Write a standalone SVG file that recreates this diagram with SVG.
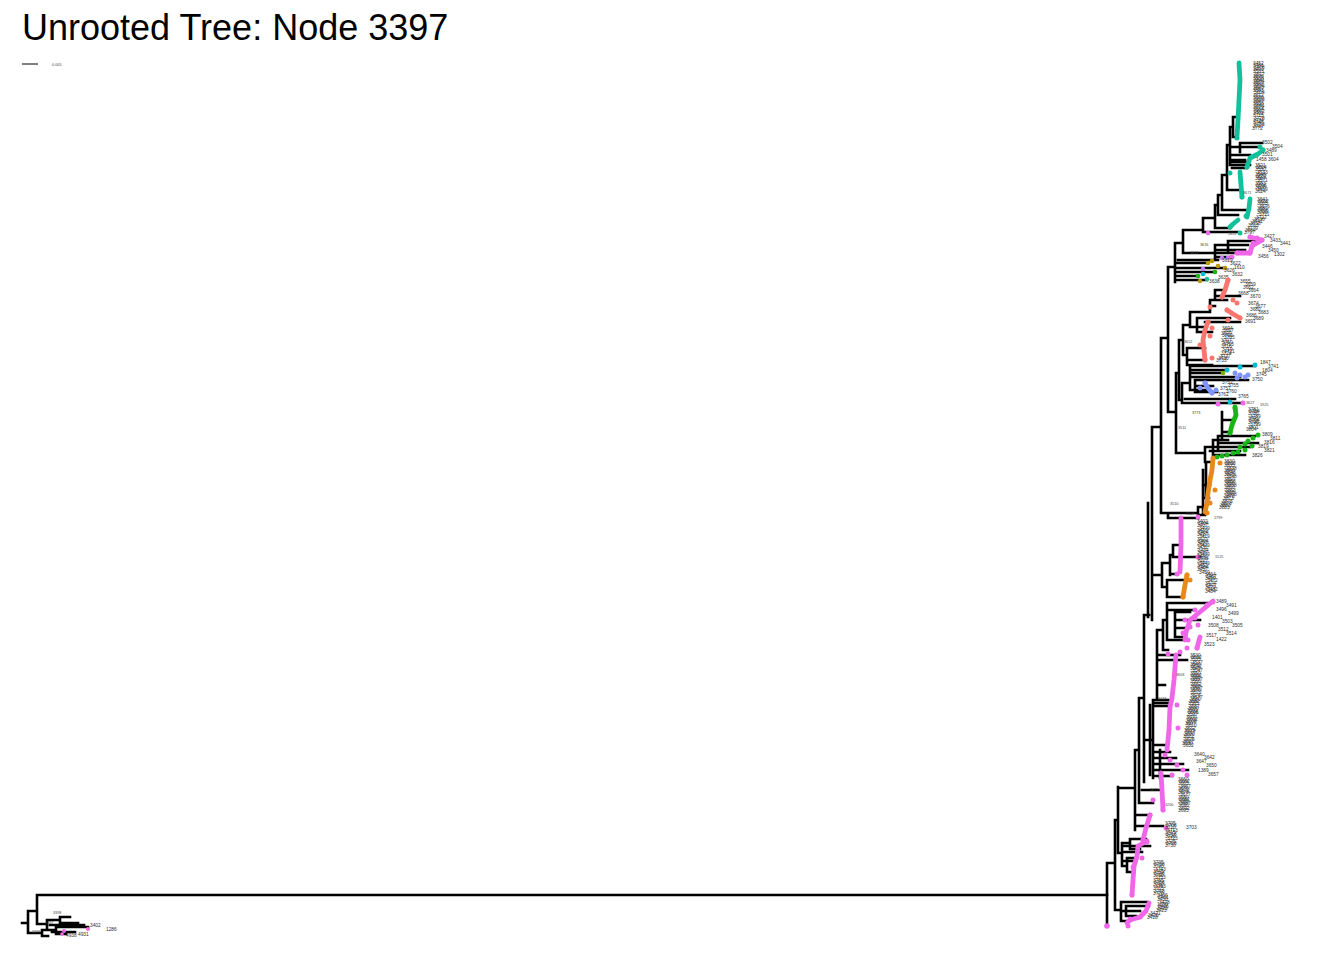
<svg xmlns="http://www.w3.org/2000/svg" width="1344" height="960" viewBox="0 0 1344 960">
<style>
.t{fill:none;stroke:#000;stroke-width:2.6;stroke-linecap:square}
.ch{fill:none;stroke-width:4.8;stroke-linecap:round;stroke-linejoin:round}
.lb{font-family:"Liberation Sans",Arial,sans-serif;font-size:4.8px;fill:#2e2e2e}
.nl{font-family:"Liberation Sans",Arial,sans-serif;font-size:3.8px;fill:#444}
.te{fill:#12C19B}.tes{stroke:#12C19B}
.pk{fill:#F066E8}.pks{stroke:#F066E8}
.sa{fill:#F8766D}.sas{stroke:#F8766D}
.bl{fill:#7F93FF}.bls{stroke:#7F93FF}
.gr{fill:#18B514}.grs{stroke:#18B514}
.or{fill:#E8891A}.ors{stroke:#E8891A}
.ol{fill:#B59B00}.cy{fill:#00BCD4}.pu{fill:#C77CFF}.yg{fill:#7CAE00}
</style>
<rect width="1344" height="960" fill="#fff"/>
<text x="22" y="40" font-family="Liberation Sans, Arial, sans-serif" font-size="36" fill="#000">Unrooted Tree: Node 3397</text>
<g id="scale"><path d="M22,64H38" stroke="#000" stroke-width="1"/><text x="52" y="65.5" class="nl" font-size="3">0.005</text></g>

<g id="edges">
<path class="t" d="M22,923H28 M28,911V933 M28,911H37 M37,895V924 M37,895H1107
M37,924H47 M47,920V930 M47,920H60 M60,917V923 M60,917H70 M60,923H78 M47,930H56 M56,927V934 M56,927H88 M56,934H66 M28,933H42 M42,930V936 M42,930H50 M42,936H48 M50,925H84 M52,932H75"/>
<path class="t" d="M1107,863V926 M1107,863H1115 M1115,820V910
M1115,910H1121 M1121,902V921 M1121,902H1147 M1121,911H1140 M1121,921H1130 M1126,906V916 M1126,906H1146 M1126,916H1136
M1118,787V853 M1115,820H1118 M1118,853H1122 M1122,843V866 M1122,843H1130 M1130,839V849 M1130,839H1146 M1130,849H1140 M1122,866H1127 M1127,858V872 M1127,858H1137 M1127,872H1134 M1124,852H1142 M1124,861H1136 M1124,846H1150
M1118,788H1135 M1135,750V830 M1135,826H1163 M1135,815H1150 M1139,698V803 M1135,750H1139 M1139,803H1153 M1142,790H1160
M1144,615V782 M1139,698H1144 M1144,740H1153
M1153,700V778 M1150,705V775 M1153,700H1157 M1157,630V700 M1157,630H1163 M1163,620V650 M1163,620H1167 M1167,603V640 M1167,603H1210 M1167,610H1195 M1167,640H1185 M1175,612V637 M1175,612H1190 M1175,620H1200 M1175,628H1186 M1175,637H1183 M1163,650H1168 M1157,655H1180 M1157,685H1165 M1153,700H1172 M1153,703H1170 M1153,706H1168 M1157,660H1187 M1153,745H1165 M1153,752H1170 M1153,758H1176 M1153,764H1183 M1153,770H1188 M1153,776H1172 M1160,750V778
M1144,615H1149 M1148,503V617 M1152,427V620 M1152,427H1161 M1161,338V513 M1161,338H1168 M1168,267V412 M1168,412H1176 M1176,373V453 M1176,453H1205
M1152,575H1162 M1162,563V587 M1162,563H1170 M1170,555V575 M1170,555H1173 M1173,545V557 M1173,557H1200 M1173,545H1181 M1170,574H1177 M1162,587H1167 M1167,580V597 M1167,597H1183 M1167,580H1187
M1161,513H1197 M1168,513V518 M1168,518H1198
M1205,447V462 M1205,447H1213 M1213,440V455 M1213,440H1228 M1213,455H1245 M1213,447H1250 M1218,436V450 M1218,436H1255 M1218,443H1258 M1210,451H1240 M1205,462H1212 M1203,470V513 M1206,462V498 M1203,485H1210 M1203,498H1209 M1198,507V515 M1198,507H1205 M1198,515H1205 M1222,412V440 M1222,420H1232 M1222,432H1230
M1176,373H1179 M1179,340V400 M1179,340H1183 M1183,325V355 M1183,325H1190 M1190,312V327 M1190,312H1210 M1210,300V312 M1210,300H1227 M1210,306H1215 M1190,327H1205 M1183,355H1187 M1187,348V365 M1187,348H1205 M1187,360H1205 M1187,365H1212 M1215,290V300 M1215,290H1225 M1215,296H1240 M1197,318V332 M1197,318H1230 M1197,332H1212 M1205,322H1240
M1179,400H1182 M1182,383V403 M1182,383H1190 M1190,366V390 M1190,366H1255 M1190,370H1227 M1190,373H1223 M1190,377H1240 M1195,380V392 M1195,380H1248 M1195,386H1213 M1195,392H1217 M1182,403H1243 M1190,390H1208 M1185,399H1235
M1168,267H1175 M1175,243V282 M1175,263H1208 M1175,268H1225 M1175,272H1215 M1175,276H1198 M1175,280H1207 M1178,260H1218
M1175,243H1183 M1183,230V253 M1183,253H1215 M1215,245V258 M1215,245H1248 M1215,250H1245 M1215,253H1237 M1215,257H1230 M1228,241V252 M1228,241H1258
M1183,230H1203 M1203,218V232 M1203,232H1238 M1203,218H1215 M1215,205V228 M1215,228H1230 M1215,205H1218 M1218,195V215 M1218,215H1238 M1218,195H1222 M1222,175V210 M1222,210H1247 M1222,175H1227 M1227,145V190 M1227,190H1240 M1227,145H1230 M1230,127V165 M1230,165H1250 M1230,160H1245 M1230,155H1250 M1230,147H1257 M1240,143V152 M1240,143H1262 M1230,127H1233 M1233,117V137 M1233,137H1237 M1233,117H1237 M1232,162H1248 M1232,168H1246"/>
</g>

<g id="node-left">
<circle class="pk" cx="64" cy="931" r="2"/><circle class="pk" cx="88" cy="929" r="2"/><circle class="pk" cx="62" cy="934" r="1.8"/>
<text class="nl" x="53" y="914">3398</text><text class="nl" x="45" y="924">3397</text><text class="nl" x="32" y="933">3399</text>
<text class="lb"><tspan x="66" y="937">4938</tspan><tspan x="78" y="936">4931</tspan><tspan x="90" y="927">3402</tspan><tspan x="106" y="931">1286</tspan></text>
</g>

<g id="node-teal">
<path class="ch tes" d="M1239,63 L1240,80 L1239,100 L1238,120 L1237,136"/>
<path class="ch tes" d="M1263,150 L1258,154 L1250,158 L1247,167"/>
<path class="ch tes" d="M1240,172 L1241,185 L1242,197"/>
<path class="ch tes" d="M1250,199 L1249,208 L1247,217"/>
<path class="ch tes" d="M1238,220 L1233,224 L1230,227"/>
<circle class="te" cx="1237" cy="138" r="2.5"/><circle class="te" cx="1260" cy="147" r="2.5"/><circle class="te" cx="1263" cy="150" r="2.5"/><circle class="te" cx="1247" cy="167" r="2.5"/><circle class="te" cx="1230" cy="173" r="2.5"/><circle class="te" cx="1242" cy="197" r="2.5"/><circle class="te" cx="1246" cy="216" r="2.5"/><circle class="te" cx="1230" cy="227" r="2.5"/><circle class="te" cx="1240" cy="233" r="2.5"/>
<text class="nl" x="1243" y="194">3671</text><text class="nl" x="1228" y="235">1455</text>
<text class="lb"><tspan x="1253" y="65">3452</tspan><tspan x="1253" dy="2.1">3461</tspan><tspan x="1254" dy="2.1">3478</tspan><tspan x="1253" dy="2.1">3490</tspan><tspan x="1253" dy="2.1">3503</tspan><tspan x="1254" dy="2.1">3517</tspan><tspan x="1253" dy="2.1">3526</tspan><tspan x="1253" dy="2.1">3538</tspan><tspan x="1254" dy="2.1">3541</tspan><tspan x="1253" dy="2.1">3555</tspan><tspan x="1253" dy="2.1">3562</tspan><tspan x="1254" dy="2.1">3574</tspan><tspan x="1253" dy="2.1">3589</tspan><tspan x="1253" dy="2.1">3591</tspan><tspan x="1254" dy="2.1">3604</tspan><tspan x="1253" dy="2.1">3612</tspan><tspan x="1253" dy="2.1">3620</tspan><tspan x="1254" dy="2.1">3633</tspan><tspan x="1253" dy="2.1">3647</tspan><tspan x="1253" dy="2.1">3658</tspan><tspan x="1254" dy="2.1">3661</tspan><tspan x="1253" dy="2.1">3679</tspan><tspan x="1253" dy="2.1">3684</tspan><tspan x="1254" dy="2.1">3692</tspan><tspan x="1253" dy="2.1">3701</tspan><tspan x="1253" dy="2.1">3715</tspan><tspan x="1254" dy="2.1">3728</tspan><tspan x="1253" dy="2.1">3734</tspan><tspan x="1253" dy="2.1">3746</tspan><tspan x="1254" dy="2.1">3753</tspan><tspan x="1253" dy="2.1">3767</tspan><tspan x="1252" dy="2.1">3772</tspan></text>
<text class="lb"><tspan x="1262" y="144">3502</tspan><tspan x="1272" y="148">3504</tspan><tspan x="1266" y="152">3489</tspan><tspan x="1262" y="156">3501</tspan><tspan x="1256" y="161">1458</tspan><tspan x="1268" y="161">3604</tspan></text>
<text class="lb"><tspan x="1255" y="167">3521</tspan><tspan x="1256" dy="2.2">3524</tspan><tspan x="1255" dy="2.2">3530</tspan><tspan x="1257" dy="2.2">3533</tspan><tspan x="1255" dy="2.2">3548</tspan><tspan x="1256" dy="2.2">3552</tspan><tspan x="1255" dy="2.2">3567</tspan><tspan x="1257" dy="2.2">3571</tspan><tspan x="1255" dy="2.2">3583</tspan><tspan x="1256" dy="2.2">3596</tspan><tspan x="1255" dy="2.2">3608</tspan><tspan x="1257" dy="2.2">3619</tspan><tspan x="1255" dy="2.2">3624</tspan></text>
<text class="lb"><tspan x="1257" y="201">3641</tspan><tspan x="1258" dy="2.2">3652</tspan><tspan x="1257" dy="2.2">3665</tspan><tspan x="1259" dy="2.2">3676</tspan><tspan x="1257" dy="2.2">3681</tspan><tspan x="1258" dy="2.2">3693</tspan><tspan x="1257" dy="2.2">3709</tspan><tspan x="1259" dy="2.2">3711</tspan><tspan x="1256" dy="2.2">3722</tspan><tspan x="1254" dy="2.2">3736</tspan><tspan x="1252" dy="2.2">3741</tspan><tspan x="1250" dy="2.2">3758</tspan><tspan x="1248" dy="2.2">3763</tspan><tspan x="1247" dy="2.2">3779</tspan><tspan x="1245" dy="2.2">3784</tspan><tspan x="1244" dy="2.2">3797</tspan></text>
</g>

<g id="node-upper-pink">
<path class="ch pks" d="M1250,237 L1262,240 L1252,246 L1250,253 L1237,253"/>
<circle class="pk" cx="1250" cy="237" r="2.5"/><circle class="pk" cx="1257" cy="238" r="2.5"/><circle class="pk" cx="1262" cy="240" r="2.5"/><circle class="pk" cx="1253" cy="243" r="2.5"/><circle class="pk" cx="1250" cy="253" r="2.5"/><circle class="pk" cx="1237" cy="253" r="2.5"/><circle class="pk" cx="1232" cy="257" r="2.5"/><circle class="pk" cx="1208" cy="233" r="2.3"/>
<circle class="pu" cx="1222" cy="258" r="2.3"/><circle class="pu" cx="1228" cy="258" r="2.3"/>
<text class="nl" x="1200" y="246">3616</text><text class="nl" x="1190" y="254">3615</text>
<text class="lb"><tspan x="1264" y="238">3427</tspan><tspan x="1270" y="242">3433</tspan><tspan x="1280" y="245">3441</tspan><tspan x="1262" y="248">3446</tspan><tspan x="1268" y="252">3450</tspan><tspan x="1274" y="256">1302</tspan><tspan x="1258" y="258">3456</tspan></text>
</g>

<g id="node-small">
<circle class="ol" cx="1208" cy="263" r="2.3"/><circle class="ol" cx="1212" cy="261" r="2.3"/><circle class="ol" cx="1218" cy="266" r="2.3"/><circle class="ol" cx="1200" cy="281" r="2.3"/><circle class="ol" cx="1225" cy="268" r="2.3"/>
<circle class="pu" cx="1203" cy="269" r="2.3"/><circle class="cy" cx="1203" cy="274" r="2.3"/><circle class="gr" cx="1198" cy="276" r="2.3"/><circle class="gr" cx="1215" cy="272" r="2.3"/><circle class="te" cx="1207" cy="279" r="2.3"/>
<text class="lb"><tspan x="1222" y="262">3619</tspan><tspan x="1230" y="265">3622</tspan><tspan x="1234" y="269">1610</tspan><tspan x="1224" y="272">3626</tspan><tspan x="1232" y="276">3632</tspan><tspan x="1218" y="279">3635</tspan><tspan x="1209" y="283">3638</tspan></text>
</g>

<g id="node-salmon">
<path class="ch sas" d="M1228,280 L1225,290 L1222,297"/>
<path class="ch sas" d="M1227,310 L1233,314 L1240,318"/>
<path class="ch sas" d="M1208,322 L1205,330 L1203,340 L1204,350 L1205,360"/>
<circle class="sa" cx="1228" cy="280" r="2.5"/><circle class="sa" cx="1222" cy="297" r="2.5"/><circle class="sa" cx="1233" cy="300" r="2.5"/><circle class="sa" cx="1237" cy="303" r="2.5"/><circle class="sa" cx="1210" cy="307" r="2.5"/><circle class="sa" cx="1227" cy="310" r="2.5"/><circle class="sa" cx="1240" cy="318" r="2.5"/><circle class="sa" cx="1228" cy="320" r="2.5"/><circle class="sa" cx="1208" cy="322" r="2.5"/><circle class="sa" cx="1212" cy="328" r="2.5"/><circle class="sa" cx="1210" cy="336" r="2.5"/><circle class="sa" cx="1200" cy="345" r="2.5"/><circle class="sa" cx="1205" cy="360" r="2.5"/><circle class="sa" cx="1212" cy="358" r="2.5"/>
<text class="nl" x="1184" y="343">3652</text>
<text class="lb"><tspan x="1240" y="283">3655</tspan><tspan x="1245" y="286">3659</tspan><tspan x="1243" y="289">3662</tspan><tspan x="1248" y="292">3664</tspan><tspan x="1238" y="295">3668</tspan><tspan x="1250" y="298">3670</tspan><tspan x="1248" y="305">3674</tspan><tspan x="1255" y="308">3677</tspan><tspan x="1250" y="311">3680</tspan><tspan x="1258" y="314">3683</tspan><tspan x="1246" y="317">3686</tspan><tspan x="1253" y="320">3689</tspan><tspan x="1245" y="323">3691</tspan></text>
<text class="lb"><tspan x="1222" y="330">3694</tspan><tspan x="1223" dy="2.3">3697</tspan><tspan x="1221" dy="2.3">3699</tspan><tspan x="1222" dy="2.3">3702</tspan><tspan x="1224" dy="2.3">3705</tspan><tspan x="1221" dy="2.3">3707</tspan><tspan x="1222" dy="2.3">3710</tspan><tspan x="1223" dy="2.3">3713</tspan><tspan x="1221" dy="2.3">3716</tspan><tspan x="1222" dy="2.3">3719</tspan><tspan x="1224" dy="2.3">3721</tspan><tspan x="1221" dy="2.3">3724</tspan><tspan x="1220" dy="2.3">3727</tspan><tspan x="1218" dy="2.3">3730</tspan><tspan x="1216" dy="2.3">3733</tspan></text>
</g>

<g id="node-blue">
<path class="ch bls" d="M1205,383 L1208,388 L1212,393"/>
<circle class="bl" cx="1235" cy="373" r="2.5"/><circle class="bl" cx="1240" cy="375" r="2.5"/><circle class="bl" cx="1245" cy="377" r="2.5"/><circle class="bl" cx="1248" cy="375" r="2.5"/><circle class="bl" cx="1237" cy="378" r="2.5"/><circle class="bl" cx="1205" cy="383" r="2.5"/><circle class="bl" cx="1212" cy="393" r="2.5"/><circle class="bl" cx="1216" cy="390" r="2.5"/><circle class="bl" cx="1200" cy="388" r="2.5"/>
<circle class="cy" cx="1227" cy="370" r="2.5"/><circle class="cy" cx="1240" cy="367" r="2.5"/><circle class="cy" cx="1255" cy="365" r="2.5"/><circle class="cy" cx="1230" cy="402" r="2.5"/><circle class="yg" cx="1223" cy="373" r="2.3"/>
<circle class="pk" cx="1218" cy="404" r="2.5"/><circle class="pk" cx="1243" cy="403" r="2.5"/>
<text class="nl" x="1192" y="414">3773</text><text class="nl" x="1246" y="404">3627</text><text class="nl" x="1260" y="406">1925</text>
<text class="lb"><tspan x="1260" y="364">1847</tspan><tspan x="1268" y="368">3741</tspan><tspan x="1262" y="372">1804</tspan><tspan x="1256" y="376">3745</tspan><tspan x="1252" y="381">3750</tspan><tspan x="1222" y="384">3752</tspan><tspan x="1228" y="387">3755</tspan><tspan x="1220" y="390">3757</tspan><tspan x="1226" y="393">3760</tspan><tspan x="1218" y="396">3762</tspan><tspan x="1238" y="398">3765</tspan></text>
</g>

<g id="node-green">
<path class="ch grs" d="M1235,407 L1236,415 L1232,425 L1230,433"/>
<circle class="gr" cx="1235" cy="408" r="2.5"/><circle class="gr" cx="1230" cy="433" r="2.5"/><circle class="gr" cx="1258" cy="435" r="2.5"/><circle class="gr" cx="1253" cy="438" r="2.5"/><circle class="gr" cx="1248" cy="441" r="2.5"/><circle class="gr" cx="1245" cy="444" r="2.5"/><circle class="gr" cx="1240" cy="447" r="2.5"/><circle class="gr" cx="1252" cy="446" r="2.5"/><circle class="gr" cx="1217" cy="457" r="2.5"/><circle class="gr" cx="1222" cy="456" r="2.5"/><circle class="gr" cx="1227" cy="455" r="2.5"/><circle class="gr" cx="1233" cy="453" r="2.5"/><circle class="gr" cx="1238" cy="452" r="2.5"/><circle class="gr" cx="1245" cy="450" r="2.5"/>
<text class="nl" x="1178" y="429">3511</text>
<text class="lb"><tspan x="1248" y="411">3781</tspan><tspan x="1249" dy="2.2">3784</tspan><tspan x="1248" dy="2.2">3786</tspan><tspan x="1250" dy="2.2">3789</tspan><tspan x="1248" dy="2.2">3791</tspan><tspan x="1249" dy="2.2">3794</tspan><tspan x="1248" dy="2.2">3796</tspan><tspan x="1250" dy="2.2">3799</tspan><tspan x="1248" dy="2.2">3801</tspan><tspan x="1246" dy="2.2">3804</tspan><tspan x="1262" y="436">3809</tspan><tspan x="1270" y="440">3811</tspan><tspan x="1264" y="444">3816</tspan><tspan x="1258" y="448">3819</tspan><tspan x="1264" y="452">3821</tspan><tspan x="1252" y="457">3826</tspan></text>
</g>

<g id="node-orange">
<path class="ch ors" d="M1213,459 L1212,470 L1210,480 L1208,493 L1207,503 L1205,512"/>
<path class="ch ors" d="M1187,575 L1185,585 L1183,597"/>
<circle class="or" cx="1213" cy="458" r="2.5"/><circle class="or" cx="1220" cy="463" r="2.5"/><circle class="or" cx="1215" cy="490" r="2.5"/><circle class="or" cx="1210" cy="503" r="2.5"/><circle class="or" cx="1207" cy="513" r="2.5"/><circle class="or" cx="1187" cy="575" r="2.5"/><circle class="or" cx="1190" cy="580" r="2.5"/><circle class="or" cx="1183" cy="597" r="2.5"/>
<text class="nl" x="1214" y="519">1799</text>
<text class="lb"><tspan x="1224" y="463">3830</tspan><tspan x="1225" dy="2.2">3833</tspan><tspan x="1224" dy="2.2">3835</tspan><tspan x="1226" dy="2.2">3838</tspan><tspan x="1224" dy="2.2">3840</tspan><tspan x="1225" dy="2.2">3843</tspan><tspan x="1224" dy="2.2">3845</tspan><tspan x="1226" dy="2.2">3848</tspan><tspan x="1224" dy="2.2">3850</tspan><tspan x="1225" dy="2.2">3853</tspan><tspan x="1224" dy="2.2">3855</tspan><tspan x="1226" dy="2.2">3858</tspan><tspan x="1224" dy="2.2">3860</tspan><tspan x="1225" dy="2.2">3863</tspan><tspan x="1224" dy="2.2">3865</tspan><tspan x="1226" dy="2.2">3868</tspan><tspan x="1224" dy="2.2">3870</tspan><tspan x="1223" dy="2.2">3873</tspan><tspan x="1222" dy="2.2">3875</tspan><tspan x="1221" dy="2.2">3878</tspan><tspan x="1220" dy="2.2">3880</tspan><tspan x="1219" dy="2.2">3883</tspan></text>
</g>

<g id="node-pink-main">
<path class="ch pks" d="M1181,518 L1181,545 L1180,572"/>
<path class="ch pks" d="M1213,601 L1200,612 L1190,620 L1186,632 L1185,640"/>
<path class="ch pks" d="M1200,637 L1197,648"/>
<path class="ch pks" d="M1176,655 L1174,680 L1172,698 L1170,707 L1169,730 L1167,750"/>
<path class="ch pks" d="M1161,773 L1162,790 L1163,810"/>
<path class="ch pks" d="M1150,815 L1146,828 L1143,840"/>
<path class="ch pks" d="M1147,841 L1138,846 L1137,856 L1134,866 L1133,880 L1132,895"/>
<path class="ch pks" d="M1149,903 L1146,911 L1140,917 L1130,920 L1127,923"/>
<circle class="pk" cx="1198" cy="517" r="2.5"/><circle class="pk" cx="1177" cy="574" r="2.5"/><circle class="pk" cx="1198" cy="557" r="2.5"/>
<circle class="pk" cx="1213" cy="602" r="2.5"/><circle class="pk" cx="1207" cy="605" r="2.5"/><circle class="pk" cx="1195" cy="610" r="2.5"/><circle class="pk" cx="1185" cy="620" r="2.5"/><circle class="pk" cx="1190" cy="627" r="2.5"/><circle class="pk" cx="1198" cy="625" r="2.5"/><circle class="pk" cx="1183" cy="633" r="2.5"/><circle class="pk" cx="1188" cy="640" r="2.5"/><circle class="pk" cx="1195" cy="618" r="2.5"/>
<circle class="pk" cx="1197" cy="648" r="2.5"/><circle class="pk" cx="1187" cy="648" r="2.5"/><circle class="pk" cx="1180" cy="652" r="2.5"/><circle class="pk" cx="1168" cy="654" r="2.5"/><circle class="pk" cx="1177" cy="705" r="2.5"/><circle class="pk" cx="1178" cy="728" r="2.5"/>
<circle class="pk" cx="1165" cy="755" r="2.5"/><circle class="pk" cx="1170" cy="760" r="2.5"/><circle class="pk" cx="1177" cy="765" r="2.5"/><circle class="pk" cx="1183" cy="770" r="2.5"/><circle class="pk" cx="1187" cy="775" r="2.5"/><circle class="pk" cx="1172" cy="775" r="2.5"/>
<circle class="pk" cx="1153" cy="800" r="2.5"/><circle class="pk" cx="1163" cy="810" r="2.5"/><circle class="pk" cx="1166" cy="828" r="2.5"/><circle class="pk" cx="1150" cy="815" r="2.5"/><circle class="pk" cx="1143" cy="840" r="2.5"/>
<circle class="pk" cx="1147" cy="842" r="2.5"/><circle class="pk" cx="1142" cy="858" r="2.5"/><circle class="pk" cx="1133" cy="867" r="2.5"/><circle class="pk" cx="1132" cy="895" r="2.5"/>
<circle class="pk" cx="1148" cy="906" r="2.5"/><circle class="pk" cx="1140" cy="917" r="2.5"/><circle class="pk" cx="1130" cy="919" r="2.5"/><circle class="pk" cx="1128" cy="926" r="2.5"/><circle class="pk" cx="1107" cy="926" r="2.8"/>
<text class="nl" x="1170" y="505">3510</text><text class="nl" x="1186" y="515">3509</text><text class="nl" x="1215" y="558">1525</text><text class="nl" x="1176" y="676">3603</text><text class="nl" x="1158" y="700">3418</text><text class="nl" x="1150" y="791">3475</text><text class="nl" x="1165" y="806">3200</text>
<text class="lb"><tspan x="1197" y="523">3402</tspan><tspan x="1198" dy="2.2">3404</tspan><tspan x="1197" dy="2.2">3407</tspan><tspan x="1199" dy="2.2">3409</tspan><tspan x="1197" dy="2.2">3412</tspan><tspan x="1198" dy="2.2">3414</tspan><tspan x="1197" dy="2.2">3417</tspan><tspan x="1199" dy="2.2">3419</tspan><tspan x="1197" dy="2.2">3422</tspan><tspan x="1198" dy="2.2">3424</tspan><tspan x="1197" dy="2.2">3427</tspan><tspan x="1199" dy="2.2">3429</tspan><tspan x="1197" dy="2.2">3432</tspan><tspan x="1198" dy="2.2">3434</tspan><tspan x="1197" dy="2.2">3437</tspan><tspan x="1199" dy="2.2">3439</tspan><tspan x="1197" dy="2.2">3442</tspan><tspan x="1198" dy="2.2">3444</tspan><tspan x="1197" dy="2.2">3447</tspan><tspan x="1199" dy="2.2">3449</tspan><tspan x="1197" dy="2.2">3452</tspan><tspan x="1198" dy="2.2">3454</tspan><tspan x="1197" dy="2.2">3457</tspan><tspan x="1199" dy="2.2">3459</tspan><tspan x="1205" dy="2.2">3464</tspan><tspan x="1206" dy="2.2">3467</tspan><tspan x="1205" dy="2.2">3469</tspan><tspan x="1207" dy="2.2">3472</tspan><tspan x="1205" dy="2.2">3474</tspan><tspan x="1206" dy="2.2">3477</tspan><tspan x="1205" dy="2.2">3479</tspan><tspan x="1207" dy="2.2">3482</tspan><tspan x="1205" dy="2.2">3484</tspan></text>
<text class="lb"><tspan x="1216" y="603">3489</tspan><tspan x="1226" y="607">3491</tspan><tspan x="1216" y="611">3496</tspan><tspan x="1228" y="615">3499</tspan><tspan x="1212" y="619">1401</tspan><tspan x="1222" y="623">3503</tspan><tspan x="1232" y="627">3505</tspan><tspan x="1208" y="627">3508</tspan><tspan x="1218" y="631">3512</tspan><tspan x="1226" y="635">3514</tspan><tspan x="1206" y="637">3517</tspan><tspan x="1216" y="641">1422</tspan><tspan x="1204" y="646">3523</tspan></text>
<text class="lb"><tspan x="1190" y="657">3530</tspan><tspan x="1191" dy="2.2">3532</tspan><tspan x="1190" dy="2.2">3535</tspan><tspan x="1192" dy="2.2">3537</tspan><tspan x="1190" dy="2.2">3540</tspan><tspan x="1191" dy="2.2">3542</tspan><tspan x="1190" dy="2.2">3545</tspan><tspan x="1192" dy="2.2">3547</tspan><tspan x="1190" dy="2.2">3550</tspan><tspan x="1191" dy="2.2">3552</tspan><tspan x="1190" dy="2.2">3555</tspan><tspan x="1192" dy="2.2">3557</tspan><tspan x="1190" dy="2.2">3560</tspan><tspan x="1191" dy="2.2">3562</tspan><tspan x="1190" dy="2.2">3565</tspan><tspan x="1192" dy="2.2">3567</tspan><tspan x="1190" dy="2.2">3570</tspan><tspan x="1191" dy="2.2">3572</tspan><tspan x="1190" dy="2.2">3575</tspan><tspan x="1192" dy="2.2">3577</tspan><tspan x="1190" dy="2.2">3580</tspan><tspan x="1189" dy="2.2">3582</tspan><tspan x="1188" dy="2.2">3585</tspan><tspan x="1189" dy="2.2">3587</tspan><tspan x="1188" dy="2.2">3590</tspan><tspan x="1187" dy="2.2">3592</tspan><tspan x="1188" dy="2.2">3595</tspan><tspan x="1187" dy="2.2">3597</tspan><tspan x="1186" dy="2.2">3600</tspan><tspan x="1187" dy="2.2">3602</tspan><tspan x="1186" dy="2.2">3605</tspan><tspan x="1185" dy="2.2">3607</tspan><tspan x="1186" dy="2.2">3610</tspan><tspan x="1185" dy="2.2">3612</tspan><tspan x="1184" dy="2.2">3615</tspan><tspan x="1185" dy="2.2">3617</tspan><tspan x="1184" dy="2.2">3620</tspan><tspan x="1183" dy="2.2">3622</tspan><tspan x="1184" dy="2.2">3625</tspan><tspan x="1183" dy="2.2">3627</tspan><tspan x="1182" dy="2.2">3630</tspan><tspan x="1183" dy="2.2">3632</tspan></text>
<text class="lb"><tspan x="1194" y="756">3640</tspan><tspan x="1204" y="759">3642</tspan><tspan x="1196" y="763">3647</tspan><tspan x="1206" y="767">3650</tspan><tspan x="1198" y="772">1389</tspan><tspan x="1208" y="776">3657</tspan></text>
<text class="lb"><tspan x="1178" y="781">3660</tspan><tspan x="1179" dy="2.2">3662</tspan><tspan x="1178" dy="2.2">3665</tspan><tspan x="1180" dy="2.2">3667</tspan><tspan x="1178" dy="2.2">3670</tspan><tspan x="1179" dy="2.2">3672</tspan><tspan x="1178" dy="2.2">3675</tspan><tspan x="1180" dy="2.2">3677</tspan><tspan x="1178" dy="2.2">3680</tspan><tspan x="1179" dy="2.2">3682</tspan><tspan x="1178" dy="2.2">3685</tspan><tspan x="1180" dy="2.2">3687</tspan><tspan x="1178" dy="2.2">3690</tspan><tspan x="1179" dy="2.2">3692</tspan><tspan x="1178" dy="2.2">3695</tspan></text>
<text class="lb"><tspan x="1186" y="829">3703</tspan><tspan x="1165" y="825">3705</tspan><tspan x="1166" dy="2.2">3708</tspan><tspan x="1165" dy="2.2">3710</tspan><tspan x="1167" dy="2.2">3713</tspan><tspan x="1165" dy="2.2">3715</tspan><tspan x="1166" dy="2.2">3718</tspan><tspan x="1165" dy="2.2">3720</tspan><tspan x="1167" dy="2.2">3723</tspan><tspan x="1165" dy="2.2">3725</tspan><tspan x="1166" dy="2.2">3728</tspan><tspan x="1165" dy="2.2">3730</tspan></text>
<text class="lb"><tspan x="1153" y="864">3735</tspan><tspan x="1154" dy="2.2">3738</tspan><tspan x="1153" dy="2.2">3740</tspan><tspan x="1155" dy="2.2">3743</tspan><tspan x="1153" dy="2.2">3745</tspan><tspan x="1154" dy="2.2">3748</tspan><tspan x="1153" dy="2.2">3750</tspan><tspan x="1155" dy="2.2">3753</tspan><tspan x="1153" dy="2.2">3755</tspan><tspan x="1154" dy="2.2">3758</tspan><tspan x="1153" dy="2.2">3760</tspan><tspan x="1155" dy="2.2">3763</tspan><tspan x="1153" dy="2.2">3765</tspan><tspan x="1154" dy="2.2">3768</tspan><tspan x="1153" dy="2.2">3770</tspan><tspan x="1157" dy="2.2">3436</tspan><tspan x="1158" dy="2.2">3431</tspan><tspan x="1157" dy="2.2">3430</tspan><tspan x="1159" dy="2.2">3428</tspan><tspan x="1157" dy="2.2">1250</tspan><tspan x="1158" dy="2.2">3426</tspan><tspan x="1157" dy="2.2">3425</tspan><tspan x="1156" dy="2.2">3423</tspan><tspan x="1150" dy="2.2">3421</tspan><tspan x="1148" dy="2.2">3420</tspan><tspan x="1147" dy="2.2">3418</tspan></text>
</g>
</svg>
